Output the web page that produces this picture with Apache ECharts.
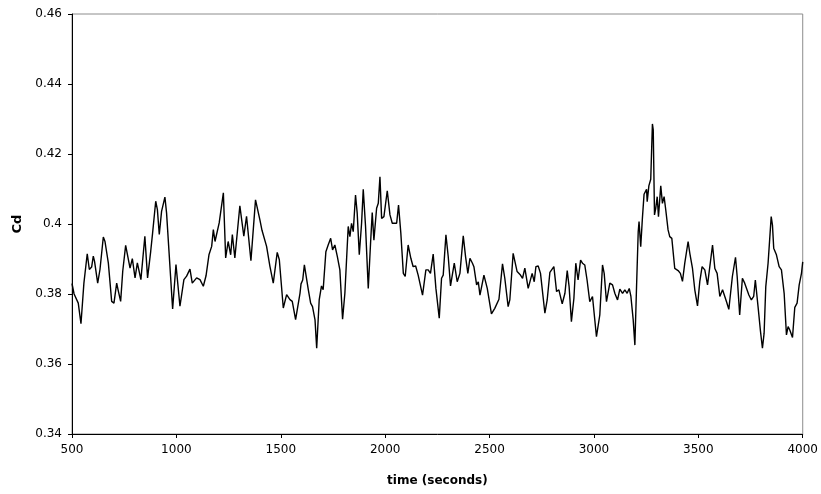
<!DOCTYPE html>
<html>
<head>
<meta charset="utf-8">
<script src="https://cdn.jsdelivr.net/npm/echarts@6/dist/echarts.min.js"></script>
<style>
html,body{margin:0;padding:0;background:#fff;}
#chart{width:821px;height:494px;}
</style>
</head>
<body>
<div id="chart"></div>
<script>
// time (seconds)
var times = [
500,503,510,530,543,557,573,583,594,602,608,623,634,650,658,674,690,701,714,722,
733,743,757,778,789,802,813,830,849,862,877,886,901,909,918,929,945,953,982,998,
1017,1036,1049,1065,1076,1097,1113,1129,1142,1156,1169,1177,1185,1205,1225,1236,1248,1260,1268,1280,
1304,1323,1336,1357,1379,1400,1410,1432,1448,1464,1483,1493,1512,1528,1544,1555,1571,1579,
1592,1597,1605,1613,1620,1632,1643,1652,1664,1672,1684,1695,1703,1716,1727,1739,1748,1759,1771,1783,
1796,1807,1823,1831,1839,1847,1858,1866,1876,1887,1895,1906,1919,1930,1938,1946,1959,1967,1975,1983,
1994,2010,2023,2034,2043,2055,2064,2075,2087,2096,2110,2123,2134,2146,2158,2179,2195,2206,2217,2230,
2243,2259,2270,2278,2291,2302,2313,2331,2345,2358,2374,2385,2396,2406,2418,2425,2438,2446,2454,2473,
2489,2509,2525,2545,2562,2573,2589,2597,2613,2632,2648,2658,2669,2685,2693,2704,2714,2722,2733,2744,
2765,2776,2789,2797,2808,2821,2832,2848,2861,2872,2881,2892,2904,2913,2924,2936,2945,2956,2967,2980,
2993,3012,3028,3041,3049,3060,3076,3089,3100,3113,3124,3137,3148,3159,3169,3177,3188,3196,3204,3212,
3216,3224,3232,3240,3252,3255,3263,3272,3280,3284,3290,3296,3303,3309,3320,3328,3336,3344,3355,3363,
3373,3387,3403,3414,3424,3435,3451,3459,3472,3483,3496,3507,3518,3531,3544,3555,3568,3579,3590,3603,
3616,3623,3635,3646,3655,3663,3670,3678,3686,3698,3711,3722,3730,3742,3754,3765,3773,3786,3797,3807,
3815,3823,3834,3842,3849,3855,3861,3874,3887,3898,3911,3922,3930,3938,3951,3962,3973,3983,3994,4000
];
// drag coefficient Cd
var cd = [
0.3830,0.3827,0.3800,0.3774,0.3715,0.3831,0.3915,0.3870,0.3877,0.3908,0.3893,0.3831,0.3870,0.3963,0.3950,0.3889,0.3779,0.3774,0.3831,0.3808,
0.3779,0.3865,0.3939,0.3874,0.3901,0.3846,0.3889,0.3841,0.3965,0.3846,0.3922,0.3974,0.4065,0.4041,0.3970,0.4036,0.4077,0.4031,0.3757,0.3884,
0.3765,0.3841,0.3851,0.3871,0.3831,0.3846,0.3841,0.3822,0.3852,0.3912,0.3936,0.3984,0.3950,0.4003,0.4089,0.3903,0.3950,0.3912,0.3970,0.3903,
0.4052,0.3965,0.4022,0.3895,0.4069,0.4012,0.3982,0.3936,0.3879,0.3831,0.3919,0.3898,0.3760,0.3798,0.3784,0.3779,0.3727,0.3727,
0.3802,0.3829,0.3840,0.3883,0.3878,0.3812,0.3774,0.3764,0.3726,0.3645,0.3783,0.3823,0.3812,0.3921,0.3940,0.3959,0.3926,0.3940,0.3907,0.3869,
0.3728,0.3802,0.3993,0.3964,0.4002,0.3978,0.4083,0.4031,0.3912,0.4002,0.4099,0.3993,0.3816,0.3945,0.4033,0.3954,0.4045,0.4059,0.4135,0.4016,
0.4021,0.4095,0.4026,0.4002,0.4007,0.4002,0.4054,0.3974,0.3859,0.3850,0.3940,0.3902,0.3878,0.3880,0.3854,0.3797,0.3869,0.3869,0.3859,0.3914,
0.3816,0.3731,0.3845,0.3854,0.3969,0.3907,0.3823,0.3888,0.3835,0.3859,0.3966,0.3907,0.3859,0.3902,0.3888,0.3878,0.3826,0.3835,0.3797,0.3854,
0.3816,0.3743,0.3759,0.3785,0.3886,0.3845,0.3764,0.3783,0.3916,0.3864,0.3854,0.3845,0.3874,0.3816,0.3821,0.3859,0.3835,0.3878,0.3880,0.3859,
0.3745,0.3783,0.3862,0.3859,0.3878,0.3807,0.3812,0.3772,0.3802,0.3867,0.3821,0.3721,0.3788,0.3888,0.3840,0.3897,0.3888,0.3883,0.3840,0.3778,
0.3793,0.3678,0.3740,0.3883,0.3859,0.3778,0.3831,0.3826,0.3802,0.3783,0.3814,0.3802,0.3812,0.3802,0.3816,0.3793,0.3726,0.3654,0.3821,0.3978,
0.4007,0.3935,0.4016,0.4085,0.4099,0.4064,0.4109,0.4128,0.4286,0.4269,0.4026,0.4045,0.4078,0.4021,0.4109,0.4059,0.4078,0.4040,0.3983,0.3964,
0.3959,0.3873,0.3867,0.3859,0.3836,0.3888,0.3950,0.3917,0.3873,0.3812,0.3766,0.3836,0.3878,0.3869,0.3826,0.3878,0.3940,0.3873,0.3859,0.3793,
0.3812,0.3814,0.3778,0.3756,0.3759,0.3850,0.3854,0.3905,0.3850,0.3740,0.3845,0.3831,0.3833,0.3797,0.3783,0.3793,0.3840,0.3764,0.3697,0.3645,
0.3688,0.3821,0.3888,0.3959,0.4021,0.3997,0.3931,0.3912,0.3878,0.3869,0.3802,0.3683,0.3707,0.3697,0.3676,0.3762,0.3774,0.3826,0.3859,0.3892
];
var xTicks = [500, 1000, 1500, 2000, 2500, 3000, 3500, 4000];
var yTickLabels = ['0.34', '0.36', '0.38', '0.4', '0.42', '0.44', '0.46'];

var points = times.map(function (t, i) { return [t, cd[i]]; });
var font = 'DejaVu Sans, Verdana, sans-serif';

var chart = echarts.init(document.getElementById('chart'), null, {renderer: 'canvas'});
chart.setOption({
  animation: false,
  backgroundColor: '#ffffff',
  grid: {left: 72, right: 18, top: 14, bottom: 60, show: true, borderColor: '#8c8c8c', borderWidth: 1, backgroundColor: 'transparent'},
  xAxis: {
    type: 'value',
    min: xTicks[0], max: xTicks[xTicks.length - 1], interval: xTicks[1] - xTicks[0],
    name: 'time (seconds)', nameLocation: 'middle', nameGap: 41,
    nameTextStyle: {fontFamily: font, fontSize: 12, fontWeight: 'bold', color: '#000'},
    axisLine: {show: true, onZero: false, lineStyle: {color: '#000', width: 1}},
    axisTick: {show: true, inside: false, length: 4, lineStyle: {color: '#000'}},
    axisLabel: {fontFamily: font, fontSize: 12, color: '#000', margin: 10,
      formatter: function (v) { var i = xTicks.indexOf(v); return i >= 0 ? String(xTicks[i]) : ''; }},
    splitLine: {show: false}
  },
  yAxis: {
    type: 'value',
    min: 0.34, max: 0.46, interval: 0.02,
    name: 'Cd', nameLocation: 'middle', nameGap: 48, nameRotate: 90,
    nameTextStyle: {fontFamily: font, fontSize: 13, fontWeight: 'bold', color: '#000'},
    axisLine: {show: true, onZero: false, lineStyle: {color: '#000', width: 1}},
    axisTick: {show: true, inside: false, length: 4, lineStyle: {color: '#000'}},
    axisLabel: {fontFamily: font, fontSize: 12, color: '#000', margin: 10,
      formatter: function (v) { return yTickLabels[Math.round((v - 0.34) / 0.02)]; }},
    splitLine: {show: false}
  },
  series: [{
    type: 'line',
    data: points,
    showSymbol: false,
    symbol: 'none',
    lineStyle: {color: '#000', width: 1.4},
    z: 3
  }]
});
</script>
</body>
</html>
